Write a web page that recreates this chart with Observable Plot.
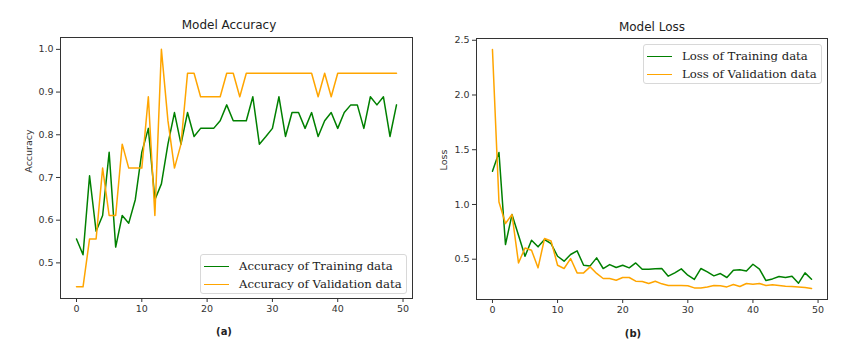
<!DOCTYPE html>
<html>
<head>
<meta charset="utf-8">
<script src="https://cdn.jsdelivr.net/npm/d3@7"></script>
<script src="https://cdn.jsdelivr.net/npm/@observablehq/plot@0.6"></script>
<style>
  html, body { margin: 0; padding: 0; background: #fff; }
  #wrap { position: relative; width: 854px; height: 358px; overflow: hidden; background: #fff; }
  #wrap svg { position: absolute; top: 0; }
  .t { position: absolute; white-space: nowrap; color: #222; font-family: "DejaVu Sans", sans-serif; }
  .title { font-size: 12px; transform: translate(-50%, -50%); }
  .ylab { font-size: 9.5px; color: #333; transform: translate(-50%, -50%) rotate(-90deg); }
  .cap { font-size: 10px; font-weight: bold; transform: translate(-50%, -50%); }
  .legend { position: absolute; box-sizing: border-box; border: 1px solid #d8d8d8; border-radius: 3px;
            background: rgba(255,255,255,0.85); font-family: "DejaVu Serif", serif; font-size: 11.7px; color: #222; }
  .row { position: absolute; left: 0; height: 18px; display: flex; align-items: center; }
  .sw { display: inline-block; width: 25px; height: 0; border-top: 1.5px solid; margin-left: 3px; margin-right: 10px; }
</style>
</head>
<body>
<div id="wrap"></div>
<script>
// ---- data ----
const epochs = [0,1,2,3,4,5,6,7,8,9,10,11,12,13,14,15,16,17,18,19,20,21,22,23,24,25,26,27,28,29,30,31,32,33,34,35,36,37,38,39,40,41,42,43,44,45,46,47,48,49];

const accTrain = [0.556,0.519,0.704,0.574,0.611,0.759,0.537,0.611,0.593,0.648,
                  0.759,0.815,0.648,0.685,0.778,0.852,0.778,0.852,0.796,0.815,
                  0.815,0.815,0.833,0.870,0.833,0.833,0.833,0.889,0.778,0.796,
                  0.815,0.889,0.796,0.852,0.852,0.815,0.852,0.796,0.833,0.852,
                  0.815,0.852,0.870,0.870,0.815,0.889,0.870,0.889,0.796,0.870];
const accVal   = [0.444,0.444,0.556,0.556,0.722,0.611,0.611,0.778,0.722,0.722,
                  0.722,0.889,0.611,1.000,0.833,0.722,0.778,0.944,0.944,0.889,
                  0.889,0.889,0.889,0.944,0.944,0.889,0.944,0.944,0.944,0.944,
                  0.944,0.944,0.944,0.944,0.944,0.944,0.944,0.889,0.944,0.889,
                  0.944,0.944,0.944,0.944,0.944,0.944,0.944,0.944,0.944,0.944];

const lossTrain = [1.304,1.474,0.634,0.908,0.719,0.527,0.674,0.613,0.680,0.643,
                   0.527,0.482,0.543,0.576,0.445,0.439,0.512,0.415,0.451,0.424,
                   0.445,0.421,0.466,0.409,0.409,0.412,0.415,0.345,0.375,0.412,
                   0.354,0.315,0.415,0.384,0.348,0.369,0.333,0.400,0.403,0.393,
                   0.454,0.409,0.305,0.320,0.342,0.333,0.345,0.281,0.375,0.317];
const lossVal   = [2.415,1.023,0.826,0.908,0.466,0.603,0.582,0.421,0.689,0.667,
                   0.445,0.415,0.506,0.375,0.375,0.430,0.370,0.324,0.324,0.308,
                   0.333,0.333,0.299,0.296,0.278,0.299,0.275,0.260,0.260,0.260,
                   0.257,0.238,0.238,0.247,0.260,0.257,0.247,0.269,0.251,0.278,
                   0.272,0.278,0.260,0.266,0.260,0.254,0.251,0.247,0.241,0.232];

const xTicks = [0,10,20,30,40,50];
const accTicks = [0.5,0.6,0.7,0.8,0.9,1.0];
const lossTicks = [0.5,1.0,1.5,2.0,2.5];

const titles = ["Model Accuracy", "Model Loss"];
const yLabels = ["Accuracy", "Loss"];
const captions = ["(a)", "(b)"];
const accLegend = ["Accuracy of Training data", "Accuracy of Validation data"];
const lossLegend = ["Loss of Training data", "Loss of Validation data"];
const colors = ["green", "orange"];

// ---- build ----
const accRows = epochs.map((e, i) => ({epoch: e, train: accTrain[i], val: accVal[i]}));
const lossRows = epochs.map((e, i) => ({epoch: e, train: lossTrain[i], val: lossVal[i]}));

function chart(rows, yDomain, yTicks, m, fmt) {
  return Plot.plot({
    width: 427, height: 358,
    marginLeft: m.l, marginRight: m.r, marginTop: m.t, marginBottom: m.b,
    style: {fontFamily: "DejaVu Sans, sans-serif", fontSize: "9.5px", background: "transparent", color: "#333"},
    x: {domain: [-2.45, 51.45]},
    y: {domain: yDomain},
    marks: [
      Plot.lineY(rows, {x: "epoch", y: "train", stroke: colors[0], strokeWidth: 1.5}),
      Plot.lineY(rows, {x: "epoch", y: "val", stroke: colors[1], strokeWidth: 1.5}),
      Plot.frame({stroke: "#333", strokeWidth: 1}),
      Plot.axisX(xTicks, {tickSize: 4, tickPadding: 3, label: null, color: "#333", fontSize: 9.5}),
      Plot.axisY(yTicks, {tickSize: 4, tickPadding: 3, label: null, color: "#333", fontSize: 9.5, tickFormat: fmt})
    ]
  });
}

const wrap = document.getElementById("wrap");
const left = chart(accRows, [0.4166, 1.0278], accTicks, {l: 60, r: 15, t: 37, b: 60}, d3.format(".1f"));
left.style.left = "0px";
wrap.appendChild(left);
const right = chart(lossRows, [0.132, 2.516], lossTicks, {l: 49, r: 27, t: 38, b: 59}, d3.format(".1f"));
right.style.left = "427px";
wrap.appendChild(right);

function text(cls, str, x, y) {
  const d = document.createElement("div");
  d.className = "t " + cls;
  d.textContent = str;
  d.style.left = x + "px";
  d.style.top = y + "px";
  wrap.appendChild(d);
}
text("title", titles[0], 229, 25);
text("title", titles[1], 652, 27);
text("ylab", yLabels[0], 28, 151);
text("ylab", yLabels[1], 443, 160);
text("cap", captions[0], 224, 331);
text("cap", captions[1], 633, 333);

function legend(labels, x, y, w, h) {
  const box = document.createElement("div");
  box.className = "legend";
  box.style.left = x + "px"; box.style.top = y + "px";
  box.style.width = w + "px"; box.style.height = h + "px";
  labels.forEach((lab, i) => {
    const r = document.createElement("div");
    r.className = "row";
    r.style.top = (2 + i * 18) + "px";
    const sw = document.createElement("span");
    sw.className = "sw";
    sw.style.borderTopColor = colors[i];
    r.appendChild(sw);
    const s = document.createElement("span");
    s.textContent = lab;
    r.appendChild(s);
    box.appendChild(r);
  });
  wrap.appendChild(box);
}
legend(accLegend, 200, 254, 207, 40);
legend(lossLegend, 643, 44, 179, 40);
</script>
</body>
</html>
